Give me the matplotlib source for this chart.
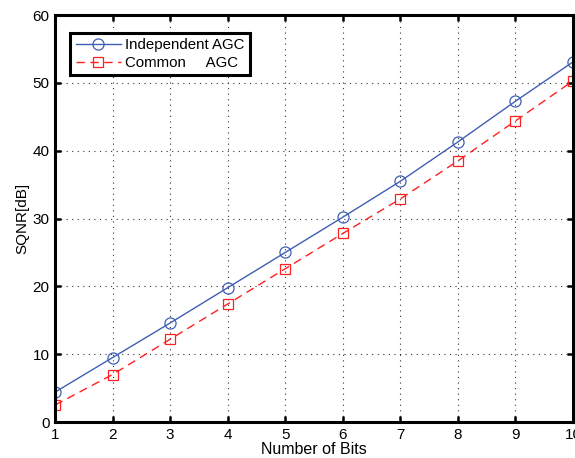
import numpy as np
import matplotlib.pyplot as plt

# Dati
bits = [1, 2, 3, 4, 5, 6, 7, 8, 9, 10]
sqnr_independent = [4.4, 9.5, 14.6, 19.8, 25.0, 30.2, 35.5, 41.3, 47.3, 53.1]
sqnr_common = [2.5, 7.0, 12.2, 17.4, 22.6, 27.8, 32.9, 38.5, 44.4, 50.3]
xticks = [1, 2, 3, 4, 5, 6, 7, 8, 9, 10]
yticks = [0, 10, 20, 30, 40, 50, 60]

plt.rcParams['font.family'] = ['Liberation Sans', 'DejaVu Sans']

fig = plt.figure(figsize=(5.75, 4.58), dpi=100, facecolor='w')
ax = fig.add_axes([0.0957, 0.0786, 0.9008, 0.8884])

ax.plot(bits, sqnr_independent, color='#3f5fb4', linewidth=1.0,
        marker='o', markersize=8, markerfacecolor='none',
        markeredgecolor='#3f5fb4', markeredgewidth=0.9,
        label='Independent AGC')
ax.plot(bits, sqnr_common, color='#ff2020', linewidth=1.0,
        linestyle=(0, (6, 4)),
        marker='s', markersize=7.5, markerfacecolor='none',
        markeredgecolor='#ff2020', markeredgewidth=0.9,
        label='Common     AGC')

ax.set_xlim(1, 10)
ax.set_ylim(0, 60)
ax.set_xticks(xticks)
ax.set_yticks(yticks)
ax.tick_params(direction='in', length=4, width=1.8, labelsize=11, pad=4,
               top=True, right=True)
ax.grid(True, linestyle=(0, (1, 4)), color='#333333', linewidth=0.8)

for s in ax.spines.values():
    s.set_linewidth(2.2)

ax.set_xlabel('Number of Bits', fontsize=11.5, labelpad=0)
ax.set_ylabel('SQNR[dB]', fontsize=11, labelpad=2)

leg = ax.legend(loc='upper left', bbox_to_anchor=(0.015, 0.975),
                fontsize=10.8, fancybox=False, framealpha=1,
                handlelength=3.0, borderpad=0.35, labelspacing=0.25,
                handletextpad=0.3)
leg.get_frame().set_edgecolor('k')
leg.get_frame().set_linewidth(2.2)

fig.savefig('out.png', dpi=100)
